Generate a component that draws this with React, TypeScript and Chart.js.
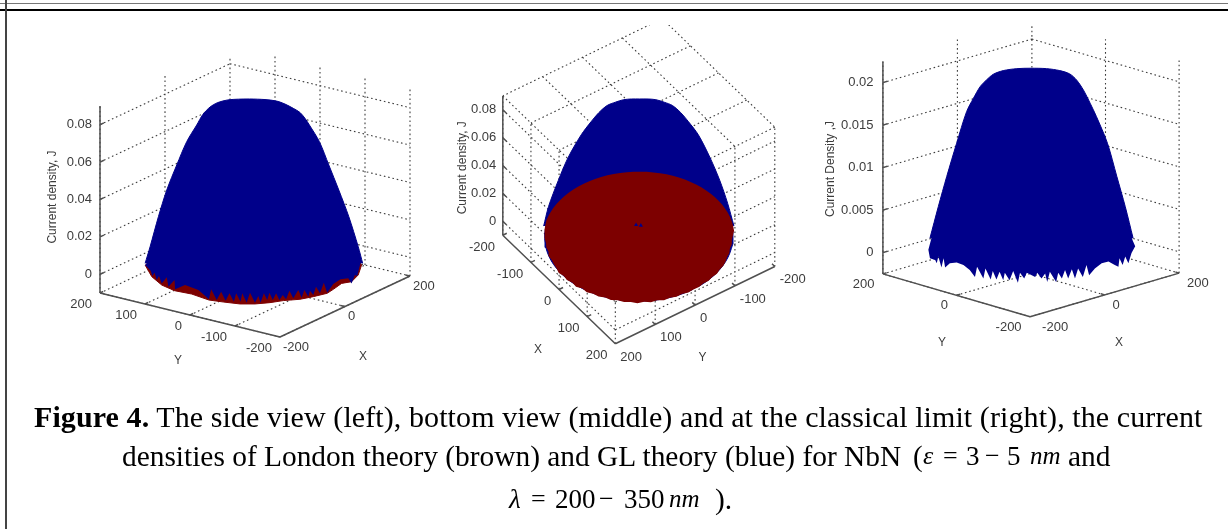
import React, { useEffect, useRef } from "react";
import { Chart, registerables } from "chart.js";

Chart.register(...registerables);

// ---------- values ----------
const xyTicksFull = [-200, -100, 0, 100, 200];
const xyTicksSparse = [-200, 0, 200];
const jTicksSide = [0, 0.02, 0.04, 0.06, 0.08];
const jTicksClassic = [0, 0.005, 0.01, 0.015, 0.02];

// GL (blue) dome outline, side view: apparent half-width (nm) against J
const sideDomeU = [194, 186, 169, 151, 133, 116, 98, 90, 81, 69, 54, 39, 18, -10, -30, -49, -67, -81, -94, -105, -123, -141, -159, -174, -189, -198];
const sideDomeJ = [0.0013, 0.0102, 0.0263, 0.0405, 0.0539, 0.0664, 0.0753, 0.0789, 0.082, 0.0842, 0.0865, 0.0881, 0.0889, 0.0892, 0.0891, 0.0887, 0.0873, 0.0849, 0.0809, 0.0753, 0.0664, 0.0539, 0.0405, 0.0263, 0.0102, 0.0013];
// jagged lower edge of the blue surface, side view
const sideEdgeU = [-198, -188, -185, -181, -177, -173, -168, -159, -156, -145, -144, -126, -102, -83, -79, -69, -61, -53, -46, -38, -34, -26, -23, -15, -9, 0, 6, 10, 16, 22, 26, 32, 38, 44, 50, 56, 62, 69, 78, 84, 89, 96, 99, 105, 110, 117, 124, 130, 141, 154, 168, 174, 180, 184, 190, 180, -180];
const sideEdgeJ = [0.0004, -0.0026, -0.0055, -0.0037, -0.0076, -0.0055, -0.0094, -0.0061, -0.0112, -0.0076, -0.0126, -0.0103, -0.0129, -0.0179, -0.0126, -0.0183, -0.0139, -0.0187, -0.0147, -0.0192, -0.0147, -0.0192, -0.0147, -0.0197, -0.0144, -0.0197, -0.0161, -0.0197, -0.0147, -0.0183, -0.0144, -0.0183, -0.0147, -0.0183, -0.0156, -0.0179, -0.0133, -0.0174, -0.0129, -0.0171, -0.0129, -0.0165, -0.0133, -0.0156, -0.0112, -0.0147, -0.009, -0.0144, -0.0097, -0.0072, -0.0067, -0.0094, -0.0049, -0.0055, 0.0013, 0.006, 0.006];
// London (brown) lower edge, side view
const sideBrownU = [-198, -186, -168, -145, -114, -83, -56, -27, 0, 27, 51, 81, 105, 130, 141, 156, 174, 186, 192, 180, -180];
const sideBrownJ = [0.0004, -0.0058, -0.0103, -0.0133, -0.0151, -0.0183, -0.0194, -0.0204, -0.0204, -0.0197, -0.0186, -0.0179, -0.0165, -0.0147, -0.0126, -0.0094, -0.0085, -0.0049, 0.0004, 0.006, 0.006];

// bottom view: blue dome outline
const bottomDomeU = [195, 182, 166, 146, 122, 102, 86, 69, 52, 35, 19, 2, -15, -31, -48, -65, -82, -98, -118, -145, -165, -185, -195];
const bottomDomeJ = [0.0078, 0.0242, 0.0405, 0.0569, 0.0733, 0.0826, 0.0892, 0.0943, 0.0967, 0.0985, 0.099, 0.099, 0.099, 0.0985, 0.0967, 0.0943, 0.0892, 0.0826, 0.0733, 0.0569, 0.0405, 0.0218, 0.0078];
// bottom view: London disc rim radius (nm), one value per 4 degrees
const discRadii = [
  194, 196, 193, 196, 194, 197, 194, 198, 195, 199, 196, 198, 195, 198, 194, 197, 194, 197, 193, 197,
  193, 196, 193, 196, 193, 192, 191, 193, 190, 192, 191, 193, 193, 195, 195, 196, 196,
  196, 196, 196, 196, 196, 196, 196, 196, 196, 196, 196, 196, 196, 196, 196, 196, 196, 196, 196, 196,
  196, 196, 196, 196, 196, 196, 196, 196, 196, 196, 196, 196, 196, 196, 196, 196, 196, 196, 196,
  193, 191, 192, 190, 192, 191, 193, 194, 193, 195, 193, 195, 193, 195,
];
const glRimRadius = 193;
// small blue remnant in the middle of the disc
const centreX = [-4, 3];
const centreY = [4, -3];
const centreJ = [0.0084, 0.0084];

// classical limit: blue dome outline
const classicDomeU = [195, 180, 164, 146, 125, 113, 100, 87, 74, 55, 30, 0, -27, -53, -72, -85, -97, -110, -123, -142, -161, -177, -193];
const classicDomeJ = [0.00165, 0.00537, 0.0089, 0.01283, 0.01596, 0.01753, 0.0191, 0.02027, 0.02098, 0.02137, 0.0216, 0.02165, 0.0216, 0.02137, 0.02094, 0.02027, 0.01949, 0.01811, 0.01654, 0.01283, 0.0089, 0.00537, 0.00165];
const classicEdgeU = [-196, -193, -183, -180, -177, -171, -167, -164, -155, -142, -129, -117, -107, -103, -91, -87, -77, -73, -66, -60, -53, -50, -41, -34, -25, -21, -13, -8, 8, 12, 20, 27, 31, 36, 48, 52, 59, 65, 71, 78, 84, 90, 99, 106, 111, 122, 135, 148, 160, 167, 169, 175, 180, 186, 192, 199, 194, 180, -180];
const classicEdgeJ = [0.0003, -0.0007, -0.0009, -0.0013, -0.0005, -0.0018, -0.0007, -0.0018, -0.0013, -0.0012, -0.0015, -0.0021, -0.0029, -0.0017, -0.0031, -0.0019, -0.0032, -0.0022, -0.0032, -0.0023, -0.0033, -0.0024, -0.0033, -0.0022, -0.0036, -0.0024, -0.0031, -0.0024, -0.0029, -0.0024, -0.0031, -0.0025, -0.0035, -0.0023, -0.0035, -0.0024, -0.0031, -0.0021, -0.0031, -0.002, -0.0031, -0.0019, -0.0029, -0.0015, -0.0027, -0.0019, -0.0013, -0.0011, -0.0015, -0.0017, -0.0007, -0.0015, -0.0005, -0.0013, -0.0001, 0.0007, 0.0014, 0.004, 0.004];

// ---------- styling ----------
const BLUE = "#00008a";
const BROWN = "#7d0000";
const AXIS = "#505050";
const GRID = "#3c3c3c";
const TEXT = "#3c3c3c";
const LABEL_FONT = '"Liberation Sans", Arial, sans-serif';

type Panel = {
  left: number; top: number; width: number; height: number;
  cx: number; cy: number; ex: number[]; ey: number[]; ez: number; k: number;
  zMin: number; zMax: number; gridPlane: number;
  xGrid: number[]; yGrid: number[]; zTicks: number[];
  xAxisAtY: number; yAxisAtX: number;
  zTitle: string; zTitlePos: number[]; xTitlePos: number[]; yTitlePos: number[];
  zLabelDx: number; xLabel: { align: CanvasTextAlign; off: number[] }; yLabel: { align: CanvasTextAlign; off: number[] };
  xLabelExtra?: number[];
  marks: (p: Panel) => any[];
};

const polygon = (pts: any[], color: string, tension = 0, borderWidth = 1) => ({
  data: pts, showLine: true, fill: "shape", backgroundColor: color, borderColor: color,
  borderWidth, pointRadius: 0, tension,
});

const outline = (p: Panel, us: number[], js: number[]) =>
  us.map((u, i) => ({ x: p.cx + u * p.k, y: p.cy - (js[i] - p.zMin) * p.ez }));

const project = (p: Panel, X: number, Y: number, J: number) => ({
  x: p.cx + X * p.ex[0] + Y * p.ey[0],
  y: p.cy + X * p.ex[1] + Y * p.ey[1] - (J - p.zMin) * p.ez,
});

const panels: Panel[] = [
  {
    left: 30, top: 56, width: 410, height: 324,
    cx: 255, cy: 284.5, ex: [0.325, -0.1525], ey: [-0.45, -0.11], ez: 1870, k: 0.555,
    zMin: -0.01, zMax: 0.09, gridPlane: -0.01,
    xGrid: xyTicksSparse, yGrid: xyTicksFull, zTicks: jTicksSide,
    xAxisAtY: -200, yAxisAtX: -200,
    zTitle: "Current density, J", zTitlePos: [52, 197], xTitlePos: [363, 357], yTitlePos: [178, 361],
    zLabelDx: -8, xLabel: { align: "left", off: [3, 10] }, yLabel: { align: "right", off: [-8, 11.7] },
    marks: (p) => [
      polygon(outline(p, sideBrownU, sideBrownJ), BROWN),
      polygon(outline(p, sideDomeU, sideDomeJ), BLUE, 0.3),
      polygon(outline(p, sideEdgeU, sideEdgeJ), BLUE, 0, 0),
    ],
  },
  {
    left: 445, top: 21, width: 370, height: 359,
    cx: 639, cy: 252, ex: [0.2875, 0.2775], ey: [-0.4075, 0.1975], ez: 1425, k: 0.4987,
    zMin: -0.01, zMax: 0.09, gridPlane: 0.09,
    xGrid: xyTicksFull, yGrid: xyTicksFull, zTicks: jTicksSide,
    xAxisAtY: 200, yAxisAtX: 200,
    zTitle: "Current density, J", zTitlePos: [458, 167], xTitlePos: [536, 353], yTitlePos: [704, 361],
    zLabelDx: -6.7, xLabel: { align: "right", off: [-8, 12] }, yLabel: { align: "left", off: [5, 13.5] },
    marks: (p) => {
      const rim = (r: (i: number) => number) =>
        discRadii.map((_, i) => {
          const t = (i * 4 * Math.PI) / 180;
          return project(p, r(i) * Math.cos(t), r(i) * Math.sin(t), 0);
        });
      return [
        polygon(outline(p, bottomDomeU, bottomDomeJ), BLUE, 0.3),
        polygon(rim(() => glRimRadius), BLUE),
        polygon(rim((i) => discRadii[i]), BROWN, 0, 0),
        {
          data: centreX.map((x, i) => project(p, x, centreY[i], centreJ[i])),
          showLine: false, pointStyle: "triangle", pointRadius: 2.4,
          pointBackgroundColor: BLUE, pointBorderColor: BLUE, pointBorderWidth: 0,
        },
      ];
    },
  },
  {
    left: 815, top: 26, width: 413, height: 354,
    cx: 1031, cy: 273.5, ex: [0.3725, -0.109], ey: [-0.368, -0.107], ez: 8500, k: 0.5236,
    zMin: -0.0025, zMax: 0.0225, gridPlane: -0.0025,
    xGrid: xyTicksSparse, yGrid: xyTicksSparse, zTicks: jTicksClassic,
    xAxisAtY: -200, yAxisAtX: -200,
    zTitle: "Current Density ,J", zTitlePos: [830, 169], xTitlePos: [1119, 343], yTitlePos: [942, 343],
    zLabelDx: -9.4, xLabel: { align: "left", off: [8, 10.7] }, yLabel: { align: "right", off: [-8.5, 10.3] },
    xLabelExtra: [4, 0, 0],
    marks: (p) => [
      polygon(outline(p, classicDomeU, classicDomeJ), BLUE, 0.3),
      polygon(outline(p, classicEdgeU, classicEdgeJ), BLUE, 0, 0),
    ],
  },
];

function PanelChart({ p }: { p: Panel }) {
  const ref = useRef<HTMLCanvasElement>(null);
  useEffect(() => {
    const gap = { x: NaN, y: NaN };
    const grid: any[] = [];
    const seg = (a: any, b: any) => grid.push(a, b, gap);
    p.xGrid.forEach((x) => {
      seg(project(p, x, 200, p.zMin), project(p, x, 200, p.zMax));
      seg(project(p, x, -200, p.gridPlane), project(p, x, 200, p.gridPlane));
    });
    p.yGrid.forEach((y) => {
      seg(project(p, 200, y, p.zMin), project(p, 200, y, p.zMax));
      seg(project(p, -200, y, p.gridPlane), project(p, 200, y, p.gridPlane));
    });
    p.zTicks.forEach((z) => {
      seg(project(p, -200, 200, z), project(p, 200, 200, z));
      seg(project(p, 200, 200, z), project(p, 200, -200, z));
    });

    const axes: any[] = [];
    const axSeg = (a: any, b: any) => axes.push(a, b, gap);
    axSeg(project(p, -200, 200, p.zMin), project(p, -200, 200, p.zMax));
    axSeg(project(p, -200, p.xAxisAtY, p.zMin), project(p, 200, p.xAxisAtY, p.zMin));
    axSeg(project(p, p.yAxisAtX, -200, p.zMin), project(p, p.yAxisAtX, 200, p.zMin));
    const inX = p.xAxisAtY < 0 ? 10 : -10;
    const inY = p.yAxisAtX < 0 ? 10 : -10;
    p.xGrid.forEach((x) => axSeg(project(p, x, p.xAxisAtY, p.zMin), project(p, x, p.xAxisAtY + inX, p.zMin)));
    p.yGrid.forEach((y) => axSeg(project(p, p.yAxisAtX, y, p.zMin), project(p, p.yAxisAtX + inY, y, p.zMin)));
    p.zTicks.forEach((z) => axSeg(project(p, -200, 200, z), project(p, -188, 200, z)));

    const painted = [
      { data: grid, showLine: true, borderColor: GRID, borderWidth: 1.1, borderDash: [1.6, 2.8], pointRadius: 0, spanGaps: false },
      ...p.marks(p),
      { data: axes, showLine: true, borderColor: AXIS, borderWidth: 1.5, pointRadius: 0, spanGaps: false },
    ];
    const datasets = painted.map((d, i) => ({ ...d, order: painted.length - i }));

    const labels = {
      id: "panelLabels",
      afterDatasetsDraw(chart: any) {
        const { ctx, scales } = chart;
        const put = (txt: string, x: number, y: number, align: CanvasTextAlign, rot = 0) => {
          ctx.save();
          ctx.translate(scales.x.getPixelForValue(x), scales.y.getPixelForValue(y));
          if (rot) ctx.rotate(rot);
          ctx.textAlign = align;
          ctx.textBaseline = "middle";
          ctx.fillText(txt, 0, 0);
          ctx.restore();
        };
        ctx.save();
        ctx.fillStyle = TEXT;
        ctx.font = `13px ${LABEL_FONT}`;
        p.zTicks.forEach((z) => {
          const a = project(p, -200, 200, z);
          put(String(z), a.x + p.zLabelDx, a.y, "right");
        });
        p.xGrid.forEach((x, i) => {
          const a = project(p, x, p.xAxisAtY, p.zMin);
          put(String(x), a.x + p.xLabel.off[0] + (p.xLabelExtra ? p.xLabelExtra[i] : 0), a.y + p.xLabel.off[1], p.xLabel.align);
        });
        p.yGrid.forEach((y) => {
          const a = project(p, p.yAxisAtX, y, p.zMin);
          put(String(y), a.x + p.yLabel.off[0], a.y + p.yLabel.off[1], p.yLabel.align);
        });
        ctx.font = `12px ${LABEL_FONT}`;
        put("X", p.xTitlePos[0], p.xTitlePos[1], "center");
        put("Y", p.yTitlePos[0], p.yTitlePos[1], "center");
        put(p.zTitle, p.zTitlePos[0] + 1, p.zTitlePos[1], "center", -Math.PI / 2);
        ctx.restore();
      },
    };

    const chart = new Chart(ref.current as HTMLCanvasElement, {
      type: "scatter",
      data: { datasets } as any,
      plugins: [labels],
      options: {
        responsive: false,
        animation: false,
        layout: { padding: 0 },
        plugins: { legend: { display: false }, tooltip: { enabled: false } },
        scales: {
          x: { type: "linear", display: false, min: p.left, max: p.left + p.width },
          y: { type: "linear", display: false, min: p.top, max: p.top + p.height, reverse: true },
        },
      } as any,
    });
    return () => chart.destroy();
  }, [p]);
  return (
    <canvas
      ref={ref}
      width={p.width}
      height={p.height}
      style={{ position: "absolute", left: p.left, top: p.top, width: p.width, height: p.height, filter: "blur(0.35px)" }}
    />
  );
}

const cap = (top: number, left: number, size: number, extra: React.CSSProperties = {}): React.CSSProperties => ({
  position: "absolute", top, left, whiteSpace: "nowrap", fontFamily: '"Liberation Serif", "Times New Roman", serif',
  fontSize: size, lineHeight: "30px", color: "#000", filter: "blur(0.3px)", ...extra,
});

// caption formula pieces: text, left edge, font size, italic
const line2Formula: [string, number, number, boolean][] = [
  ["(", 913, 29, false], ["ε", 923, 26, true], ["=", 943, 26, false], ["3", 966, 27, false], ["−", 985, 26, false], ["5", 1007, 27, false], ["nm", 1030, 25, true], ["and", 1068, 29.4, false],
];
const line3Formula: [string, number, number, boolean][] = [
  ["λ", 509, 27, true], ["=", 531, 26, false], ["200", 555, 27, false], ["−", 599, 26, false], ["350", 624, 27, false], ["nm", 669, 25, true], [").", 715, 29.4, false],
];

export default function App() {
  return (
    <div style={{ position: "absolute", left: 0, top: 0, width: 1228, height: 529, overflow: "hidden", background: "#fff" }}>
      <div style={{ position: "absolute", left: 0, top: 3, width: 1228, height: 1, background: "#777" }} />
      <div style={{ position: "absolute", left: 0, top: 9, width: 1228, height: 2, background: "#000" }} />
      <div style={{ position: "absolute", left: 5, top: 0, width: 2, height: 529, background: "#444" }} />
      {panels.map((p, i) => <PanelChart key={i} p={p} />)}
      <div style={cap(402, 34, 30, { letterSpacing: 0.09 })}>
        <b>Figure 4.</b> The side view (left), bottom view (middle) and at the classical limit (right), the current
      </div>
      <div style={cap(441, 122, 29.4)}>
        densities of London theory (brown) and GL theory (blue) for NbN
      </div>
      {line2Formula.map(([t, x, s, it], i) => (
        <div key={i} style={cap(441, x, s, { fontStyle: it ? "italic" : "normal" })}>{t}</div>
      ))}
      {line3Formula.map(([t, x, s, it], i) => (
        <div key={i} style={cap(484, x, s, { fontStyle: it ? "italic" : "normal" })}>{t}</div>
      ))}
    </div>
  );
}
